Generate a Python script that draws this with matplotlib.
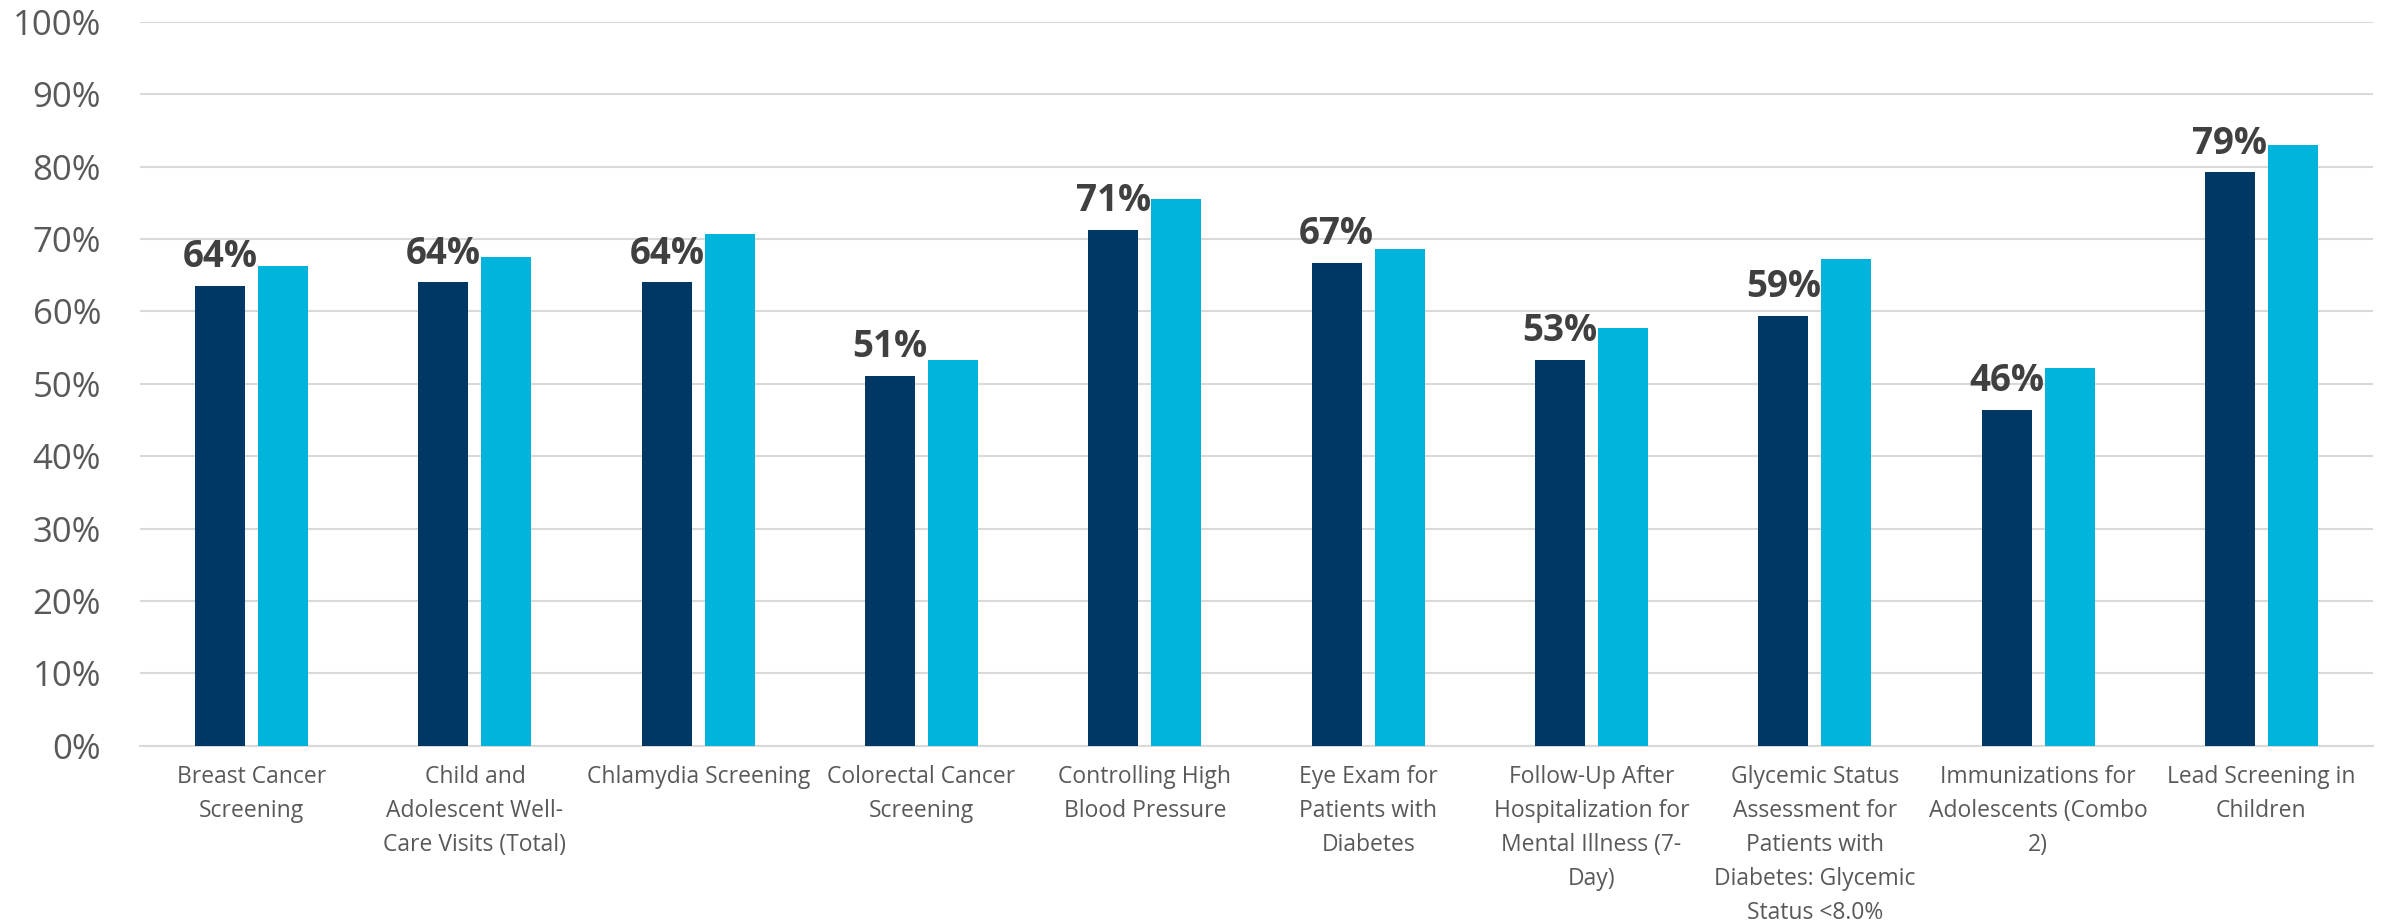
import matplotlib
matplotlib.use("Agg")
import matplotlib.pyplot as plt
import numpy as np

categories = [
    "Breast Cancer\nScreening",
    "Child and\nAdolescent Well-\nCare Visits (Total)",
    "Chlamydia Screening",
    "Colorectal Cancer\nScreening",
    "Controlling High\nBlood Pressure",
    "Eye Exam for\nPatients with\nDiabetes",
    "Follow-Up After\nHospitalization for\nMental Illness (7-\nDay)",
    "Glycemic Status\nAssessment for\nPatients with\nDiabetes: Glycemic\nStatus <8.0%",
    "Immunizations for\nAdolescents (Combo\n2)",
    "Lead Screening in\nChildren",
]
series_dark = [63.5, 64.0, 64.0, 51.1, 71.2, 66.7, 53.3, 59.4, 46.4, 79.2]
series_light = [66.3, 67.5, 70.7, 53.3, 75.5, 68.6, 57.7, 67.2, 52.2, 83.0]
dark_labels = ["64%", "64%", "64%", "51%", "71%", "67%", "53%", "59%", "46%", "79%"]
yticks = [0, 10, 20, 30, 40, 50, 60, 70, 80, 90, 100]
ytick_labels = [f"{v}%" for v in yticks]

plt.rcParams['font.family'] = ['Open Sans', 'DejaVu Sans']

fig = plt.figure(figsize=(23.92, 9.23), dpi=100)
ax = fig.add_axes([140/2392, 177.3/923, (2373-140)/2392, 724/923])

x = np.arange(len(categories))
w = 0.224
off = 0.141
ax.bar(x - off, series_dark, width=w, color="#003865", zorder=3)
ax.bar(x + off, series_light, width=w, color="#00B4DB", zorder=3)

for xi, v, lab in zip(x, series_dark, dark_labels):
    ax.annotate(lab, (xi - off, v), xytext=(0, 13.5), textcoords="offset points",
                ha="center", va="baseline", fontsize=26.5, fontweight="bold",
                color="#404040")

ax.set_xlim(-0.5, len(categories) - 0.5)
ax.set_ylim(0, 100)
ax.set_yticks(yticks)
ax.set_yticklabels(ytick_labels, fontsize=25, color="#595959")
ax.set_xticks(x)
ax.set_xticklabels(categories, fontsize=16.5, color="#595959", linespacing=1.55)
ax.tick_params(axis="y", length=0, pad=28)
ax.tick_params(axis="x", length=0, pad=14)
ax.yaxis.grid(True, color="#d9d9d9", linewidth=1.5, zorder=0)
ax.set_axisbelow(True)
for s in ["top", "right", "left"]:
    ax.spines[s].set_visible(False)
ax.spines["bottom"].set_color("#d9d9d9")
ax.spines["bottom"].set_linewidth(1.5)

fig.savefig("out.png", dpi=100)
